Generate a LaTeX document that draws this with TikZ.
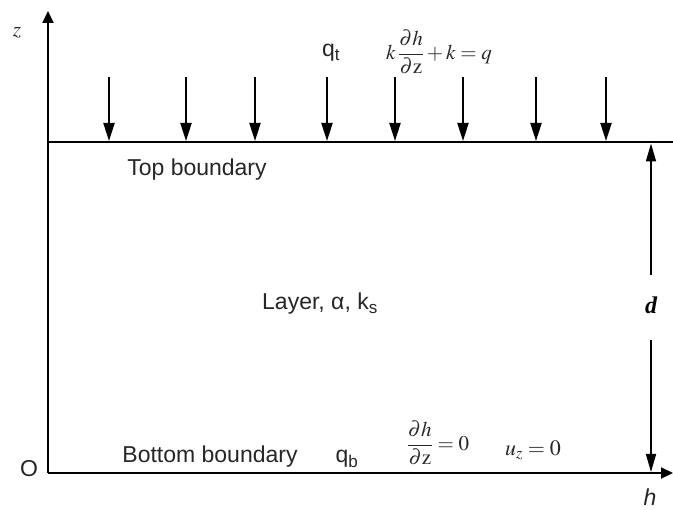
\documentclass[tikz,border=0pt]{standalone}
\usepackage{amsmath}
\usepackage{mathptmx}
\usepackage{fontspec}
\setmainfont{Liberation Sans}
\newfontfamily\serifbi{Liberation Serif}
\usetikzlibrary{arrows.meta}
\begin{document}
\begin{tikzpicture}[x=1pt,y=-1pt,
  lbl/.style={font=\fontsize{23}{26}\selectfont, inner sep=0pt, text=black!85},
  mth/.style={font=\fontsize{21}{24}\selectfont, inner sep=0pt, text=black!85},
  ax/.style={line width=2pt, -{Triangle[length=12pt,width=11pt]}},
  load/.style={line width=2pt, -{Triangle[length=18pt,width=11pt]}},
  dim/.style={line width=1.6pt, -{Triangle[length=18pt,width=10pt]}}]
\useasboundingbox (0,0) rectangle (673,510);
% axes
\coordinate (O) at (48,473);
\coordinate (ztip) at (48,11);
\coordinate (htip) at (673,473);
\coordinate (tl) at (48,142);
\coordinate (tr) at (673,142);
\draw[ax] (O) -- (ztip);
\draw[ax] (O) -- (htip);
\draw[line width=2.6pt] (tl) -- (tr);
% loads
\foreach \x [count=\i] in {109,186,255,327,395,463,536,606}{
  \coordinate (a\i) at (\x,77);
  \coordinate (b\i) at (\x,141);
  \draw[load] (a\i) -- (b\i);
}
% dimension d
\node[font=\fontsize{24}{26}\selectfont, inner sep=0pt] (d) at (651,305) {\serifbi\bfseries\itshape d};
\coordinate (dt) at (651,143.5);
\coordinate (db) at (651,472);
\coordinate (d1) at (651,275);
\coordinate (d2) at (651,340);
\draw[dim] (d1) -- (dt);
\draw[dim] (d2) -- (db);
% labels
\node[mth] (zl) at (17,33) {$z$};
\node[lbl] (Ol) at (29,469) {O};
\node[lbl] (hl) at (650,497) {\itshape h};
\node[lbl, anchor=base west] (qt) at (322,57) {q\textsubscript{t}};
\node[mth] (eqt) at (439,52) {$k\,\dfrac{\partial h}{\partial \mathrm{z}}+k=q$};
\node[lbl] (top) at (197,170) {Top boundary};
\node[lbl] (layer) at (320,304) {Layer, α, k\textsubscript{s}};
\node[lbl, anchor=base] (bot) at (210,463) {Bottom boundary};
\node[lbl, anchor=base] (qb) at (347,463) {q\textsubscript{b}};
\node[mth] (eqb) at (438,443) {$\dfrac{\partial h}{\partial \mathrm{z}}=0$};
\node[mth, font=\fontsize{22}{24}\selectfont] (uz) at (533,450) {$u_z=0$};
\end{tikzpicture}
\end{document}
